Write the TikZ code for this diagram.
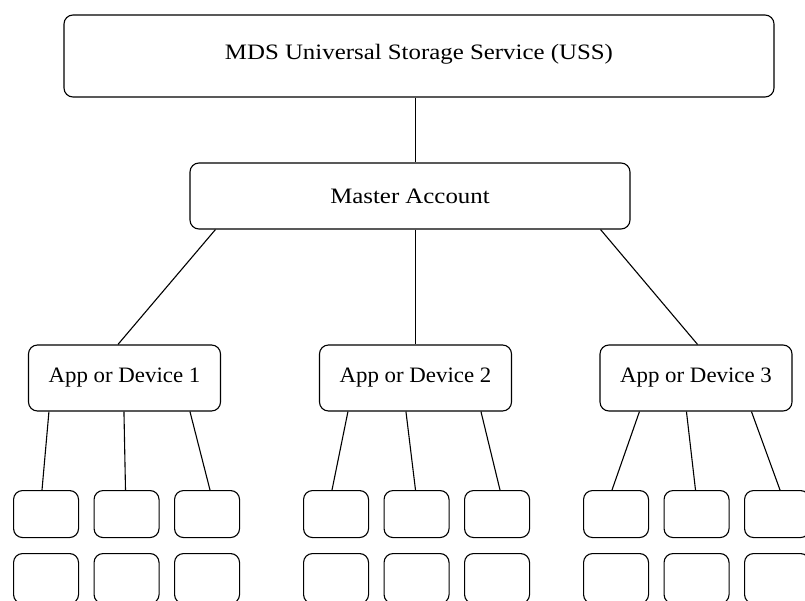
\documentclass[tikz,border=0pt]{standalone}
\usepackage{fontspec}
\setmainfont{Liberation Serif}
\newfontfamily\widefont{Liberation Serif}[FakeStretch=1.13]
\newfontfamily\appfont{Liberation Serif}[FakeStretch=1.04]
\usetikzlibrary{positioning}
\tikzset{
    roundbox/.style={rectangle, rounded corners=9pt, draw=black, line width=1.1pt, align=center, inner sep=0pt, font=\widefont\fontsize{22}{26}\selectfont},
    appbox/.style={roundbox, minimum width=192pt, minimum height=66pt, font=\appfont\fontsize{22}{26}\selectfont},
    leafbox/.style={roundbox, minimum width=65pt},
    link/.style={line width=1.1pt, black},
}

\begin{document}
\begin{tikzpicture}[x=1pt, y=-1pt]
\useasboundingbox (0,0) rectangle (805,601);
\clip (0,0) rectangle (805,601);

% Service and account
\node[roundbox, minimum width=710pt, minimum height=82pt, text depth=8pt] (uss) at (419,56) {MDS Universal Storage Service (USS)};
\node[roundbox, minimum width=440pt, minimum height=66pt] (master) at (410,196) {Master Account};

% Apps or devices
\foreach \i/\x in {1/124.5, 2/415.5, 3/696}
    \node[appbox] (app\i) at (\x,378) {App or Device \i};

% Leaf boxes (two rows under each device)
\foreach \i/\x in {1/13, 2/303, 3/583}
    \foreach \j in {1,2,3}
        \foreach \r/\y/\h in {1/490/47, 2/553/50}
            \node[leafbox, minimum height=\h pt, anchor=north west] (leaf-\i-\j-\r) at ({\x+(\j-1)*80.5}, \y) {};

% Links
\draw[link] (uss.south -| app2.north) -- (master.north -| app2.north);
\draw[link] ([xshift=26pt]master.south west) -- ([xshift=90pt]app1.north west);
\draw[link] (master.south -| app2.north) -- (app2.north);
\draw[link] ([xshift=-30pt]master.south east) -- ([xshift=-95pt]app3.north east);

\foreach \i/\a/\b/\c in {1/21/96/162, 2/29/87/162, 3/40/87/152} {
    \draw[link] ([xshift=\a pt]app\i.south west) -- ([xshift=29pt]leaf-\i-1-1.north west);
    \draw[link] ([xshift=\b pt]app\i.south west) -- ([xshift=32pt]leaf-\i-2-1.north west);
    \draw[link] ([xshift=\c pt]app\i.south west) -- ([xshift=36pt]leaf-\i-3-1.north west);
}

\end{tikzpicture}
\end{document}
